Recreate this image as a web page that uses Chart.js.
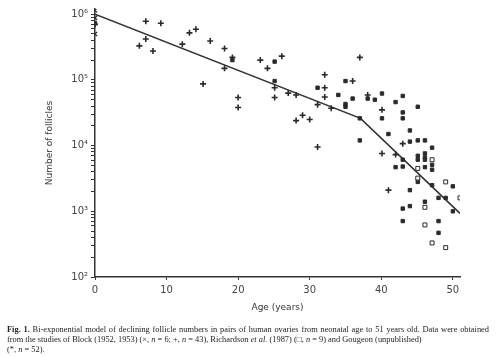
<!DOCTYPE html>
<html><head><meta charset="utf-8">
<script src="https://cdn.jsdelivr.net/npm/chart.js@4"></script>
<style>
html,body{margin:0;padding:0;background:#fff;}
#wrap{position:relative;width:500px;height:357px;overflow:hidden;}
#cap{position:absolute;left:7px;top:325px;width:482px;font-family:"Liberation Serif","DejaVu Serif",serif;font-size:8.4px;line-height:10px;color:#222;}
#cap div{white-space:nowrap;}
#cap div.first{text-align:justify;text-align-last:justify;}
</style></head>
<body><div id="wrap"><canvas id="c" width="500" height="357"></canvas>
<div id="cap">
<div class="first"><b>Fig. 1.</b> Bi-exponential model of declining follicle numbers in pairs of human ovaries from neonatal age to 51 years old. Data were obtained</div>
<div>from the studies of Block (1952, 1953) (×, <i>n</i> = 6; +, <i>n</i> = 43), Richardson <i>et al.</i> (1987) (□, <i>n</i> = 9) and Gougeon (unpublished)</div>
<div>(*, <i>n</i> = 52).</div>
</div></div>
<script>
// Block (1952, 1953) "+" points
const blockPlusAge = [0,6.2,7.1,7.1,8.1,9.2,12.2,13.2,14.1,15.1,16.1,18.1,18.1,19.2,20.0,20.0,23.1,24.1,25.1,25.1,26.1,27.0,28.1,28.1,29.0,30.0,31.1,31.1,32.1,32.1,32.1,33.0,36.0,37.0,38.1,40.1,40.1,41.0,42.0,43.0];
const blockPlusVal = [7.0e5,3.3e5,7.8e5,4.2e5,2.75e5,7.3e5,3.5e5,5.2e5,5.9e5,8.7e4,3.9e5,3.0e5,1.5e5,2.2e5,5.4e4,3.8e4,2.0e5,1.5e5,7.6e4,5.4e4,2.3e5,6.3e4,5.9e4,2.4e4,2.9e4,2.5e4,4.2e4,9.5e3,1.2e5,7.6e4,5.5e4,3.7e4,9.6e4,2.2e5,5.9e4,3.5e4,7.6e3,2.1e3,7.3e3,1.07e4];
// Block "×" points
const blockXAge = [0,0,0];
const blockXVal = [1.15e6,8.8e5,5.0e5];
// Richardson et al. (1987) open squares
const richAge = [47.1,45.1,45.1,49.0,51.0,46.1,46.1,47.1,49.0];
const richVal = [6.1e3,4.5e3,3.2e3,2.8e3,1.6e3,1.15e3,620,330,280];
// Gougeon (unpublished) "*" points
const gougAge = [0,19.2,25.1,25.1,31.1,34.0,35.0,35.0,35.0,36.0,37.0,37.0,38.1,39.1,40.1,40.1,41.0,42.0,43.0,43.0,43.0,44.0,44.0,45.1,45.1,46.1,47.1,43.0,42.0,43.0,45.1,45.1,46.1,46.1,46.1,47.1,47.1,46.1,45.1,47.1,44.0,50.0,48.0,49.0,43.0,44.0,46.1,50.0,43.0,48.0,48.0];
const gougVal = [7.3e5,2.0e5,1.9e5,9.6e4,7.6e4,5.9e4,9.6e4,4.3e4,3.9e4,5.2e4,2.6e4,1.2e4,5.2e4,5.0e4,6.2e4,2.6e4,1.5e4,4.6e4,5.7e4,3.2e4,2.6e4,1.7e4,1.15e4,3.9e4,1.2e4,1.2e4,9.3e3,6.1e3,4.7e3,4.8e3,7.0e3,6.1e3,7.6e3,6.6e3,6.1e3,5.1e3,4.3e3,4.7e3,2.8e3,2.5e3,2.1e3,2.4e3,1.6e3,1.6e3,1.1e3,1.2e3,1.4e3,1.0e3,710,710,470];
// Bi-exponential model line
const modelAge = [0,37.1,51];
const modelVal = [1.0e6,2.6e4,930];
// Axis ticks
const xTicks = [0,10,20,30,40,50];
const yDecades = [2,3,4,5,6];
const sup = {'2':'²','3':'³','4':'⁴','5':'⁵','6':'⁶'};

const pts = (a,v)=>a.map((x,i)=>({x:x,y:v[i]}));
const ink = '#2a2a2a';

new Chart(document.getElementById('c'),{
  data:{datasets:[
    {type:'line',label:'Model',data:pts(modelAge,modelVal),borderColor:'#333',borderWidth:1.6,pointRadius:0,fill:false,tension:0,order:5},
    {type:'scatter',label:'Block +',data:pts(blockPlusAge,blockPlusVal),pointStyle:'cross',pointRadius:3,borderColor:ink,borderWidth:1.6,order:1},
    {type:'scatter',label:'Block ×',data:pts(blockXAge,blockXVal),pointStyle:'crossRot',pointRadius:3,borderColor:ink,borderWidth:1.3,order:1},
    {type:'scatter',label:'Richardson',data:pts(richAge,richVal),pointStyle:'rect',pointRadius:2.8,borderColor:ink,backgroundColor:'#fff',borderWidth:1,order:1},
    {type:'scatter',label:'Gougeon',data:pts(gougAge,gougVal),pointStyle:'rect',pointRadius:2.4,borderColor:ink,backgroundColor:'#2a2a2a',borderWidth:1,order:1}
  ]},
  options:{
    responsive:false,animation:false,
    layout:{padding:{left:40,right:40,top:8,bottom:40}},
    plugins:{legend:{display:false},tooltip:{enabled:false}},
    scales:{
      x:{type:'linear',min:0,max:51,
        afterBuildTicks:s=>{s.ticks=xTicks.map(v=>({value:v}));},
        afterFit:s=>{s.height=40;},
        grid:{drawOnChartArea:false,tickLength:3,color:'#333'},
        border:{color:'#333',width:1.5},
        ticks:{font:{family:'DejaVu Sans',size:10},color:'#444',padding:4,maxRotation:0},
        title:{display:true,text:'Age (years)',font:{family:'DejaVu Sans',size:9},color:'#333',padding:{top:4,bottom:4}}
      },
      y:{type:'logarithmic',min:100,max:1.2e6,
        afterBuildTicks:s=>{const t=[];yDecades.forEach(d=>{t.push({value:Math.pow(10,d),major:true});if(d<6){for(let k=2;k<=9;k++)t.push({value:k*Math.pow(10,d)});}});s.ticks=t;},
        afterFit:s=>{s.width=55;},
        grid:{drawOnChartArea:false,tickLength:4,color:'#333'},
        border:{color:'#333',width:1.5},
        ticks:{autoSkip:false,font:{family:'DejaVu Sans',size:10},color:'#444',padding:3,
          callback:(v)=>{const l=Math.log10(v);const r=Math.round(l);return Math.abs(l-r)<1e-6?'10'+sup[String(r)]:'';}},
        title:{display:true,text:'Number of follicles',font:{family:'DejaVu Sans',size:9},color:'#333',padding:{bottom:2}}
      }
    }
  }
});
</script></body></html>
